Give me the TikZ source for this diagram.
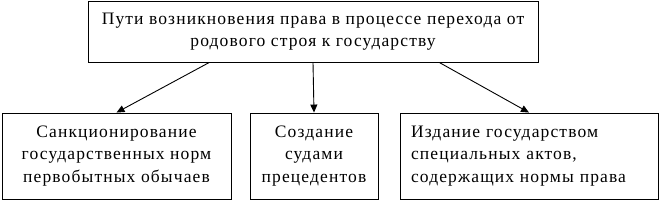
\documentclass[tikz,border=0pt]{standalone}
\usepackage{fontspec}
\setmainfont{Liberation Serif}[LetterSpace=6.5]
\usetikzlibrary{arrows.meta,calc}

\begin{document}
\begin{tikzpicture}[
  x=1pt, y=-1pt,
  font=\fontsize{17.5}{22.5}\selectfont,
  boxbase/.style={draw, line width=0.9pt, inner sep=2pt,
              minimum height=86pt},
  topbox/.style={boxbase, align=center, minimum width=450pt,
              minimum height=61pt},
  leafC/.style={boxbase, align=center},
  leafL/.style={boxbase, align=left, text width=236pt, inner sep=11pt},
  arr/.style={-{Triangle[length=8pt,width=7pt]}, line width=0.9pt},
]
\useasboundingbox (0,0) rectangle (665,202);

\node[topbox] (ways) at (313,31.5)
  {Пути возникновения права в процессе перехода от\\ родового строя к государству};

\node[leafC, minimum width=229pt] (sanc) at (116.5,156)
  {Санкционирование\\ государственных норм\\ первобытных обычаев};
\node[leafC, minimum width=128pt] (prec) at (314,156)
  {Создание\\ судами\\ прецедентов};
\node[leafL] (acts) at (529,156)
  {Издание государством\\ специальных актов,\\ содержащих нормы права};

\draw[arr] ($(ways.south west)!0.27!(ways.south east)$) -- (sanc.north);
\draw[arr] (ways.south) -- (prec.north);
\draw[arr] ($(ways.south west)!0.78!(ways.south east)$) -- (acts.north);
\end{tikzpicture}
\end{document}
